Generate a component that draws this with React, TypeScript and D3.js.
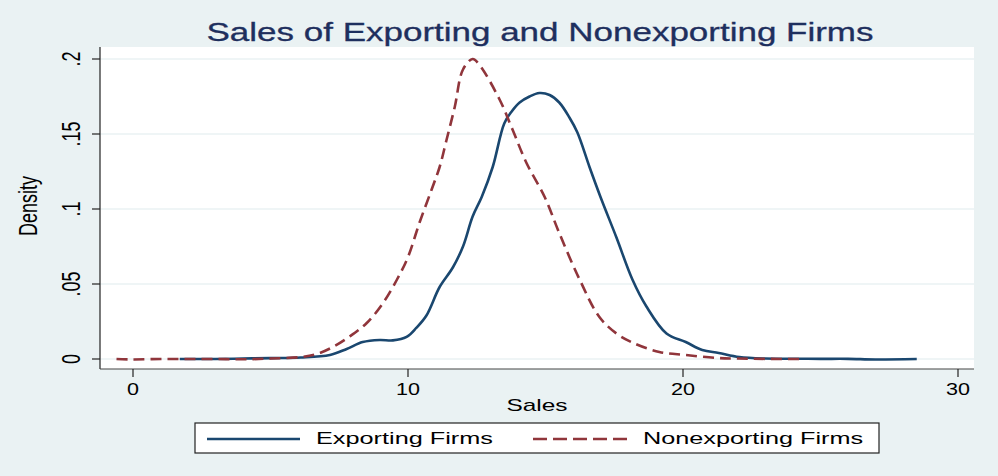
import React, { useEffect, useRef } from 'react'
import * as d3 from 'd3'

// kernel density estimates
const exportX = [1.7, 3, 4, 5, 6.1, 7.16, 7.77, 8.35, 8.97, 9.45, 9.95, 10.3, 10.67, 11.15, 11.63, 12.0, 12.35, 12.68, 13.08, 13.5, 13.77, 14.06, 14.42, 14.78, 15.15, 15.5, 15.87, 16.16, 16.6, 17.0, 17.58, 18.16, 18.67, 19.4, 20.1, 20.7, 21.3, 22.05, 23, 24, 25, 26, 27, 28.5]
const exportY = [0, 0, 0.0003, 0.0006, 0.001, 0.0027, 0.0067, 0.0113, 0.0127, 0.0124, 0.0147, 0.0207, 0.029, 0.048, 0.061, 0.075, 0.095, 0.108, 0.128, 0.157, 0.165, 0.171, 0.175, 0.1773, 0.176, 0.171, 0.161, 0.151, 0.128, 0.108, 0.081, 0.053, 0.035, 0.017, 0.0113, 0.006, 0.004, 0.0013, 0.0003, 0.0002, 0.0001, 0.0001, -0.0003, 0]

const nonX = [-0.6, 0, 1, 2, 3, 4, 5, 6.1, 6.68, 7.27, 7.88, 8.5, 9.08, 9.6, 10.0, 10.42, 10.86, 11.15, 11.4, 11.7, 12.0, 12.35, 12.6, 13.33, 13.8, 14.3, 14.97, 15.5, 16.24, 16.96, 17.58, 18.16, 19.14, 20.1, 21.2, 22, 23, 24.3]
const nonY = [0, -0.0003, 0, 0, 0, -0.0002, 0.0003, 0.0013, 0.0033, 0.008, 0.015, 0.024, 0.037, 0.053, 0.068, 0.091, 0.113, 0.128, 0.146, 0.168, 0.193, 0.2, 0.196, 0.173, 0.153, 0.131, 0.108, 0.084, 0.053, 0.028, 0.017, 0.011, 0.0047, 0.0027, 0.0007, 0.0003, 0.0001, 0]

const xTicks = [0, 10, 20, 30]
const yTicks = [0, 0.05, 0.1, 0.15, 0.2]
const yTickLabels = ['0', '.05', '.1', '.15', '.2']
const seriesNames = ['Exporting Firms', 'Nonexporting Firms']

const width = 998
const height = 476
const bg = '#eaf2f3'
const blue = '#1a476f'
const red = '#90353b'
const font = 'Liberation Sans, Arial, sans-serif'

export default function App(): JSX.Element {
  const svgRef = useRef(null)

  useEffect(() => {
    const svg = d3.select(svgRef.current)
    svg.selectAll('*').remove()

    const x = d3.scaleLinear().domain([0, 30]).range([133, 958])
    const y = d3.scaleLinear().domain([0, 0.2]).range([359, 59])
    const plotLeft = 100
    const plotRight = 974
    const plotTop = 47
    const plotBottom = 369

    svg.append('rect').attr('width', width).attr('height', height).attr('fill', bg)
    svg
      .append('rect')
      .attr('x', plotLeft)
      .attr('y', plotTop)
      .attr('width', plotRight - plotLeft)
      .attr('height', plotBottom - plotTop)
      .attr('fill', 'white')

    // gridlines
    svg
      .append('g')
      .selectAll('line')
      .data(yTicks)
      .join('line')
      .attr('x1', plotLeft)
      .attr('x2', plotRight)
      .attr('y1', d => y(d))
      .attr('y2', d => y(d))
      .attr('stroke', bg)
      .attr('stroke-width', 1.5)

    // title
    svg
      .append('text')
      .attr('x', 540)
      .attr('y', 41)
      .attr('text-anchor', 'middle')
      .attr('font-family', font)
      .attr('font-size', 25)
      .attr('fill', '#1e2f5e')
      .attr('stroke', '#1e2f5e')
      .attr('stroke-width', 0.3)
      .attr('textLength', 667)
      .attr('lengthAdjust', 'spacingAndGlyphs')
      .text('Sales of Exporting and Nonexporting Firms')

    // axes
    svg
      .append('line')
      .attr('x1', plotLeft)
      .attr('x2', plotLeft)
      .attr('y1', plotTop)
      .attr('y2', plotBottom)
      .attr('stroke', '#222')
      .attr('stroke-width', 1.2)
    svg
      .append('line')
      .attr('x1', plotLeft)
      .attr('x2', plotRight)
      .attr('y1', plotBottom)
      .attr('y2', plotBottom)
      .attr('stroke', '#444')
      .attr('stroke-width', 1.2)

    const gx = svg.append('g')
    gx.selectAll('line')
      .data(xTicks)
      .join('line')
      .attr('x1', d => x(d))
      .attr('x2', d => x(d))
      .attr('y1', plotBottom)
      .attr('y2', plotBottom + 8)
      .attr('stroke', '#222')
      .attr('stroke-width', 1.2)
    gx.selectAll('text')
      .data(xTicks)
      .join('text')
      .attr('x', d => x(d))
      .attr('y', 395)
      .attr('text-anchor', 'middle')
      .attr('font-family', font)
      .attr('font-size', 17)
      .attr('textLength', d => (String(d).length > 1 ? 24 : 12))
      .attr('lengthAdjust', 'spacingAndGlyphs')
      .text(d => String(d))

    const gy = svg.append('g')
    gy.selectAll('line')
      .data(yTicks)
      .join('line')
      .attr('x1', plotLeft - 8)
      .attr('x2', plotLeft)
      .attr('y1', d => y(d))
      .attr('y2', d => y(d))
      .attr('stroke', '#222')
      .attr('stroke-width', 1.2)
    gy.selectAll('text')
      .data(yTicks)
      .join('text')
      .attr('transform', d => `translate(80,${y(d)}) scale(1.45,1) rotate(-90)`)
      .attr('text-anchor', 'middle')
      .attr('font-family', font)
      .attr('font-size', 18)
      .text((d, i) => yTickLabels[i])

    // axis titles
    svg
      .append('text')
      .attr('x', 537)
      .attr('y', 411)
      .attr('text-anchor', 'middle')
      .attr('font-family', font)
      .attr('font-size', 17)
      .attr('textLength', 61)
      .attr('lengthAdjust', 'spacingAndGlyphs')
      .text('Sales')
    svg
      .append('text')
      .attr('transform', `translate(37,${(plotTop + plotBottom) / 2 - 2}) scale(1.45,1) rotate(-90)`)
      .attr('text-anchor', 'middle')
      .attr('font-family', font)
      .attr('font-size', 18)
      .text('Density')

    // density curves
    const line = d3
      .line<number>()
      .x(d => x(d[0]))
      .y(d => y(d[1]))
      .curve(d3.curveCatmullRom.alpha(0.5))

    const curves = svg.append('g')
    curves
      .append('path')
      .datum(d3.zip(exportX, exportY))
      .attr('d', line)
      .attr('fill', 'none')
      .attr('stroke', blue)
      .attr('stroke-width', 2.6)
      .attr('stroke-linejoin', 'round')
    curves
      .append('path')
      .datum(d3.zip(nonX, nonY))
      .attr('d', line)
      .attr('fill', 'none')
      .attr('stroke', red)
      .attr('stroke-width', 2.6)
      .attr('stroke-dasharray', '11,6')

    // legend
    const lg = svg.append('g')
    lg.append('rect')
      .attr('x', 195)
      .attr('y', 423)
      .attr('width', 684)
      .attr('height', 30)
      .attr('fill', 'white')
      .attr('stroke', '#222')
      .attr('stroke-width', 1.2)
    lg.append('line')
      .attr('x1', 207)
      .attr('x2', 300)
      .attr('y1', 439)
      .attr('y2', 439)
      .attr('stroke', blue)
      .attr('stroke-width', 2.6)
    lg.append('line')
      .attr('x1', 533)
      .attr('x2', 628)
      .attr('y1', 439)
      .attr('y2', 439)
      .attr('stroke', red)
      .attr('stroke-width', 2.6)
      .attr('stroke-dasharray', '14,6')
    lg.selectAll('text')
      .data(seriesNames)
      .join('text')
      .attr('x', (d, i) => (i === 0 ? 316 : 643))
      .attr('y', 444)
      .attr('font-family', font)
      .attr('font-size', 16.5)
      .attr('textLength', (d, i) => (i === 0 ? 177 : 220))
      .attr('lengthAdjust', 'spacingAndGlyphs')
      .text(d => d)
  }, [])

  return (
    <div>
      <style>{'body{margin:0}'}</style>
      <svg ref={svgRef} width={width} height={height} style={{ display: 'block' }}></svg>
    </div>
  )
}
